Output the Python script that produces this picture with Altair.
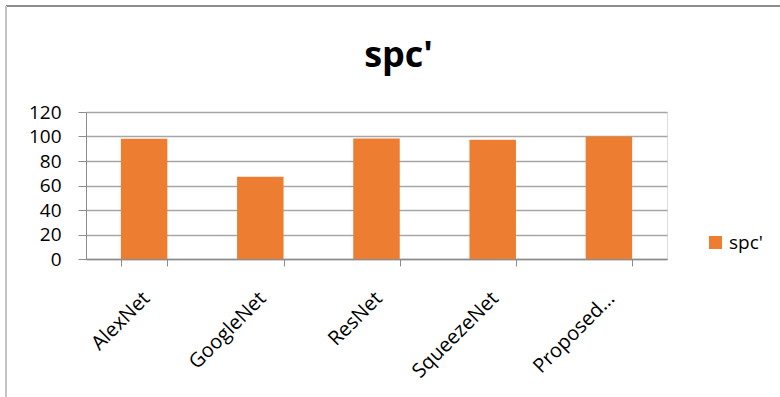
import altair as alt
import pandas as pd

# Specificity (%) per network
models = ["AlexNet", "GoogleNet", "ResNet", "SqueezeNet", "Proposed..."]
spc_values = [98.2, 67.1, 98.3, 97.4, 100.0]
series_name = "spc'"
y_ticks = [0, 20, 40, 60, 80, 100, 120]

df = pd.DataFrame({
    "model": models,
    "spc": spc_values,
    "series": [series_name] * len(models),
})

FONT = "Open Sans"
ORANGE = "#ED7D31"
AXIS_GRAY = "#8c8c8c"

bars = alt.Chart(df).mark_bar().encode(
    x=alt.X(
        "model:N",
        sort=models,
        title=None,
        scale=alt.Scale(paddingInner=0.6, paddingOuter=0.3),
        axis=alt.Axis(
            labelAngle=-45,
            labelFontSize=20,
            labelFont=FONT,
            labelColor="#000000",
            labelPadding=22,
            labelOffset=-5,
            tickBand="extent",
            tickSize=7,
            tickColor=AXIS_GRAY,
            domainColor=AXIS_GRAY,
            domainWidth=1.5,
            labelLimit=200,
        ),
    ),
    y=alt.Y(
        "spc:Q",
        title=None,
        scale=alt.Scale(domain=[0, 120], nice=False),
        axis=alt.Axis(
            values=y_ticks,
            grid=True,
            gridColor="#a6a6a6",
            gridWidth=1.3,
            labelFontSize=19,
            labelFont=FONT,
            labelColor="#000000",
            labelPadding=17,
            tickSize=8,
            tickColor=AXIS_GRAY,
            domainColor=AXIS_GRAY,
        ),
    ),
    color=alt.Color(
        "series:N",
        scale=alt.Scale(range=[ORANGE]),
        legend=alt.Legend(
            title=None,
            orient="none",
            legendX=620,
            legendY=121,
            symbolType="square",
            symbolSize=169,
            symbolStrokeWidth=0,
            labelFontSize=19,
            labelFont=FONT,
            labelColor="#000000",
        ),
    ),
)

# outer frame of the chart area
frame_top = alt.Chart(df).mark_rule(color="#8a8a8a", strokeWidth=1.2).encode(
    x=alt.value(-80), x2=alt.value(700), y=alt.value(-106)
)
frame_left = alt.Chart(df).mark_rule(color="#c4c4c4", strokeWidth=1.2).encode(
    x=alt.value(-80), y=alt.value(-106), y2=alt.value(290)
)

# the frame rules extend the layer bounds upward, so the title is
# pulled back down with dy
chart = alt.layer(frame_top, frame_left, bars).properties(
    width=581,
    height=147,
    title=alt.TitleParams(
        text=series_name,
        font=FONT,
        fontSize=36,
        fontWeight="bold",
        color="#000000",
        anchor="middle",
        frame="group",
        baseline="alphabetic",
        dx=22,
        dy=143,
        offset=45,
    ),
    autosize=alt.AutoSizeParams(type="none"),
    padding={"left": 86, "top": 112, "right": 113, "bottom": 138},
).configure_view(strokeWidth=0).configure(background="white")

chart.save("out.html", embed_options={"renderer": "svg", "actions": False})
